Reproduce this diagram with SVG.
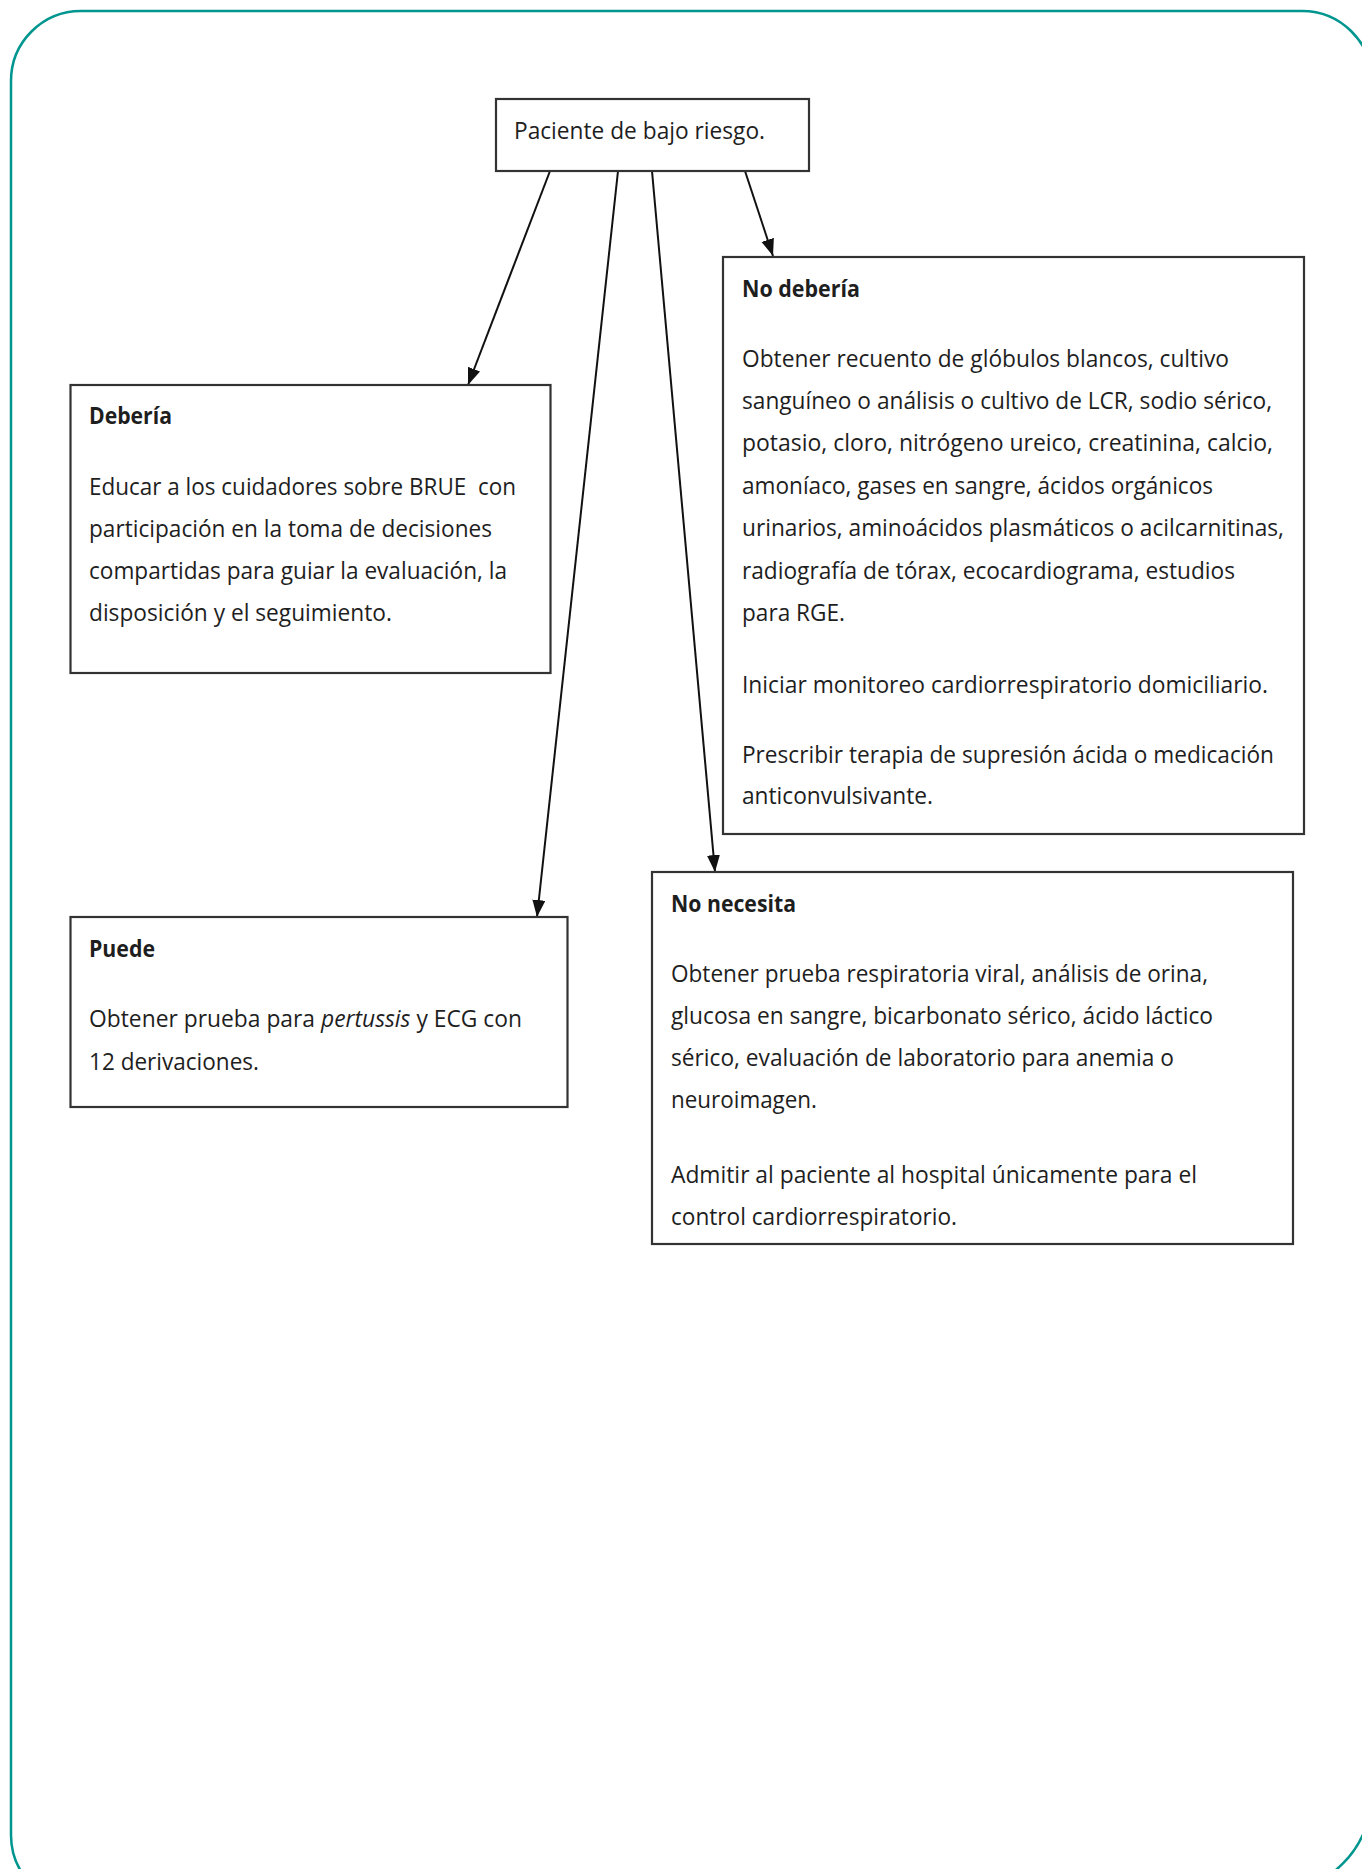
<svg xmlns="http://www.w3.org/2000/svg" width="1362" height="1869" viewBox="0 0 1362 1869">
<style>
.frame{fill:none;stroke:#00968f;stroke-width:2.5}
.box{fill:#ffffff;stroke:#333333;stroke-width:2.2}
.t{font-family:"Open Sans","Noto Sans","Liberation Sans",sans-serif;font-size:23.5px;fill:#1e1e1e}
.b{font-weight:700}
.edge{stroke:#111111;stroke-width:2;fill:none}
</style>
<defs>
<marker id="arr" markerUnits="userSpaceOnUse" markerWidth="18" markerHeight="14" refX="17" refY="6.5" orient="auto">
<path d="M0,0 L17,6.5 L0,13 z" fill="#111111"/>
</marker>
</defs>
<rect x="0" y="0" width="1362" height="1869" fill="#ffffff"/>
<path class="frame" d="M11,81 A70,70 0 0 1 81,11 L1302,11 A70,70 0 0 1 1372,81 L1372,1793 A100,100 0 0 1 1272,1893 L81,1905 A70,70 0 0 1 11,1835 Z"/>

<g id="connectors">
<line class="edge" x1="550" y1="171" x2="468" y2="385" marker-end="url(#arr)"/>
<line class="edge" x1="618" y1="171" x2="537" y2="917" marker-end="url(#arr)"/>
<line class="edge" x1="652" y1="171" x2="715" y2="872" marker-end="url(#arr)"/>
<line class="edge" x1="745" y1="171" x2="773" y2="256" marker-end="url(#arr)"/>
</g>

<g id="node-root">
<rect class="box" x="496" y="99" width="313" height="72"/>
<text class="t" x="514" y="139" textLength="251" lengthAdjust="spacingAndGlyphs">Paciente de bajo riesgo.</text>
</g>

<g id="node-deberia">
<rect class="box" x="70.5" y="385" width="480" height="288"/>
<text class="t b" x="89" y="424" textLength="83" lengthAdjust="spacingAndGlyphs">Debería</text>
<text class="t" x="89" y="495" textLength="427" lengthAdjust="spacingAndGlyphs" xml:space="preserve">Educar a los cuidadores sobre BRUE  con</text>
<text class="t" x="89" y="537" textLength="403" lengthAdjust="spacingAndGlyphs">participación en la toma de decisiones</text>
<text class="t" x="89" y="579" textLength="418" lengthAdjust="spacingAndGlyphs">compartidas para guiar la evaluación, la</text>
<text class="t" x="89" y="621" textLength="303" lengthAdjust="spacingAndGlyphs">disposición y el seguimiento.</text>
</g>

<g id="node-nodeberia">
<rect class="box" x="723" y="257" width="581" height="577"/>
<text class="t b" x="742" y="297" textLength="118" lengthAdjust="spacingAndGlyphs">No debería</text>
<text class="t" x="742" y="367" textLength="487" lengthAdjust="spacingAndGlyphs">Obtener recuento de glóbulos blancos, cultivo</text>
<text class="t" x="742" y="409" textLength="530" lengthAdjust="spacingAndGlyphs">sanguíneo o análisis o cultivo de LCR, sodio sérico,</text>
<text class="t" x="742" y="451" textLength="531" lengthAdjust="spacingAndGlyphs">potasio, cloro, nitrógeno ureico, creatinina, calcio,</text>
<text class="t" x="742" y="494" textLength="471" lengthAdjust="spacingAndGlyphs">amoníaco, gases en sangre, ácidos orgánicos</text>
<text class="t" x="742" y="536" textLength="542" lengthAdjust="spacingAndGlyphs">urinarios, aminoácidos plasmáticos o acilcarnitinas,</text>
<text class="t" x="742" y="579" textLength="493" lengthAdjust="spacingAndGlyphs">radiografía de tórax, ecocardiograma, estudios</text>
<text class="t" x="742" y="621" textLength="103" lengthAdjust="spacingAndGlyphs">para RGE.</text>
<text class="t" x="742" y="693" textLength="526" lengthAdjust="spacingAndGlyphs">Iniciar monitoreo cardiorrespiratorio domiciliario.</text>
<text class="t" x="742" y="763" textLength="532" lengthAdjust="spacingAndGlyphs">Prescribir terapia de supresión ácida o medicación</text>
<text class="t" x="742" y="804" textLength="191" lengthAdjust="spacingAndGlyphs">anticonvulsivante.</text>
</g>

<g id="node-puede">
<rect class="box" x="70.5" y="917" width="497" height="190"/>
<text class="t b" x="89" y="957" textLength="66" lengthAdjust="spacingAndGlyphs">Puede</text>
<text class="t" x="89" y="1027" textLength="433" lengthAdjust="spacingAndGlyphs">Obtener prueba para <tspan font-style="italic">pertussis</tspan> y ECG con</text>
<text class="t" x="89" y="1070" textLength="170" lengthAdjust="spacingAndGlyphs">12 derivaciones.</text>
</g>

<g id="node-nonecesita">
<rect class="box" x="652" y="872" width="641" height="372"/>
<text class="t b" x="671" y="912" textLength="125" lengthAdjust="spacingAndGlyphs">No necesita</text>
<text class="t" x="671" y="982" textLength="537" lengthAdjust="spacingAndGlyphs">Obtener prueba respiratoria viral, análisis de orina,</text>
<text class="t" x="671" y="1024" textLength="542" lengthAdjust="spacingAndGlyphs">glucosa en sangre, bicarbonato sérico, ácido láctico</text>
<text class="t" x="671" y="1066" textLength="503" lengthAdjust="spacingAndGlyphs">sérico, evaluación de laboratorio para anemia o</text>
<text class="t" x="671" y="1108" textLength="146" lengthAdjust="spacingAndGlyphs">neuroimagen.</text>
<text class="t" x="671" y="1183" textLength="526" lengthAdjust="spacingAndGlyphs">Admitir al paciente al hospital únicamente para el</text>
<text class="t" x="671" y="1225" textLength="286" lengthAdjust="spacingAndGlyphs">control cardiorrespiratorio.</text>
</g>
</svg>
